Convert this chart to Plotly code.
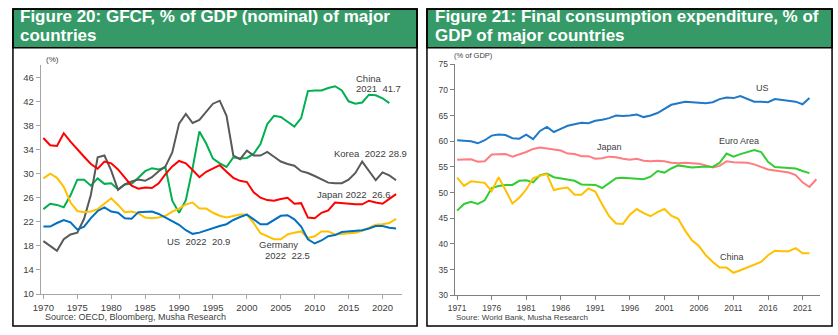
import plotly.graph_objects as go

# ---------------- Data: Figure 20 (GFCF, % of GDP) ----------------
years_gfcf = list(range(1970, 2023))
years_china_gfcf = list(range(1970, 2022))

us_gfcf = [21.2, 21.2, 21.8, 22.3, 21.9, 20.7, 21.2, 22.6, 23.8, 24.4,
           23.7, 23.5, 22.6, 22.5, 23.6, 23.7, 23.7, 23.3, 22.7, 22.2,
           21.5, 20.6, 20.0, 20.2, 20.6, 20.9, 21.3, 21.6, 22.3, 22.8,
           23.2, 22.4, 21.6, 21.6, 22.3, 23.0, 23.1, 22.4, 21.2, 19.1,
           18.4, 18.9, 19.6, 19.8, 20.3, 20.4, 20.4, 20.6, 20.9, 21.3,
           21.3, 21.0, 20.9]
japan_gfcf = [35.9, 34.7, 34.6, 36.7, 35.3, 34.0, 32.8, 31.6, 30.8, 32.0,
              31.7, 30.7, 29.4, 28.0, 27.5, 27.7, 27.6, 28.4, 29.9, 31.2,
              32.1, 31.7, 30.6, 29.4, 30.3, 30.9, 31.4, 30.3, 29.3, 28.8,
              28.6, 26.9, 26.0, 25.6, 25.5, 25.8, 26.0, 25.0, 25.1, 22.7,
              22.6, 23.5, 23.9, 25.2, 25.1, 24.9, 24.9, 24.9, 25.5, 25.2,
              25.0, 25.8, 26.6]
germany_gfcf = [29.2, 30.0, 29.3, 27.8, 25.2, 23.8, 23.6, 23.7, 24.1, 25.0,
                25.9, 24.8, 23.6, 23.7, 23.4, 22.7, 22.6, 22.7, 23.0, 23.7,
                24.2, 24.9, 25.2, 24.2, 24.2, 23.5, 23.0, 22.7, 23.0, 23.2,
                23.2, 21.8, 20.1, 19.6, 19.1, 19.1, 19.9, 20.2, 20.4, 19.3,
                19.6, 20.4, 20.4, 19.9, 20.0, 20.0, 20.2, 20.5, 21.0, 21.5,
                21.6, 21.8, 22.5]
korea_gfcf = [18.8, 18.0, 17.2, 19.1, 19.9, 20.2, 22.5, 26.5, 32.7, 33.0,
              30.5, 27.3, 28.2, 28.7, 29.0, 28.8, 29.4, 30.4, 31.2, 33.5,
              38.3, 39.9, 38.4, 38.9, 40.3, 41.6, 42.1, 39.6, 33.0, 32.4,
              33.8, 33.0, 33.0, 33.6, 32.8, 32.0, 31.6, 31.3, 30.4, 30.1,
              29.6, 29.0, 28.5, 28.4, 28.4, 29.0, 30.1, 32.0, 30.4, 28.9,
              30.2, 29.7, 28.9]
china_gfcf = [24.1, 25.0, 24.8, 24.4, 26.4, 29.0, 29.0, 28.0, 29.2, 28.3,
              28.4, 27.4, 28.2, 28.3, 29.3, 30.4, 30.9, 30.7, 31.0, 25.5,
              23.5, 25.6, 30.9, 37.0, 35.0, 32.5, 31.7, 31.1, 32.7, 32.5,
              32.6, 33.3, 34.9, 38.2, 39.6, 39.4, 38.6, 37.8, 39.2, 43.7,
              43.8, 43.8, 44.2, 44.5, 43.8, 42.0, 41.6, 41.8, 43.1, 43.0,
              42.5, 41.7]

# ---------------- Data: Figure 21 (Final consumption, % of GDP) ----------------
years_cons = list(range(1971, 2023))
years_japan_cons = list(range(1971, 2024))

us_cons = [60.2, 60.1, 60.0, 59.6, 60.2, 61.1, 61.3, 61.2, 60.6, 60.5,
           61.3, 60.4, 62.0, 62.8, 61.8, 62.4, 63.0, 63.3, 63.6, 63.5,
           64.0, 64.2, 64.5, 65.0, 64.9, 65.0, 65.2, 64.7, 65.0, 65.5,
           66.3, 67.1, 67.4, 67.7, 67.6, 67.5, 67.4, 67.6, 68.2, 68.5,
           68.4, 68.8, 68.2, 67.7, 67.7, 67.6, 68.2, 68.0, 67.9, 67.7,
           67.2, 68.4]
japan_cons = [56.4, 56.5, 56.5, 56.0, 56.1, 57.4, 57.5, 57.5, 57.0, 57.4,
              57.9, 58.5, 58.8, 58.6, 58.4, 58.2, 57.6, 57.5, 57.1, 57.1,
              56.6, 56.7, 57.0, 56.9, 56.6, 56.4, 56.6, 56.2, 56.1, 56.2,
              56.1, 55.8, 55.7, 55.8, 55.7, 55.6, 55.3, 54.9, 55.2, 56.1,
              55.9, 55.9, 55.8, 55.5, 55.0, 54.5, 54.3, 54.1, 53.9, 53.4,
              52.0, 51.1, 52.6]
euro_cons = [46.5, 47.8, 48.2, 47.8, 48.5, 50.9, 51.3, 51.5, 51.5, 52.3,
             52.4, 52.0, 53.4, 53.7, 53.0, 52.8, 52.5, 52.3, 51.6, 51.6,
             51.5, 50.9, 51.8, 52.8, 52.9, 52.8, 52.7, 52.6, 53.1, 54.2,
             53.9, 54.7, 55.3, 55.1, 54.9, 55.0, 55.1, 55.0, 55.8, 57.6,
             57.0, 57.5, 57.9, 58.3, 57.9, 56.0, 55.0, 54.9, 54.9, 54.7,
             54.2, 53.8]
china_cons = [52.9, 51.3, 52.2, 52.0, 51.9, 50.3, 53.0, 50.5, 47.9, 49.0,
              50.6, 52.8, 53.3, 53.6, 50.5, 50.8, 51.0, 49.6, 49.6, 50.8,
              50.2, 47.7, 45.4, 44.0, 43.9, 45.7, 46.8, 46.0, 45.4, 46.2,
              46.8, 45.5, 44.9, 42.6, 40.7, 39.6, 37.8, 36.5, 35.4, 35.4,
              34.4, 34.9, 35.4, 35.9, 36.5, 37.8, 38.7, 38.6, 38.6, 39.2,
              38.2, 38.2]

left_ticks_x = list(range(1970, 2021, 5))
left_ticks_y = list(range(10, 47, 4))
right_ticks_x = list(range(1971, 2022, 5))
right_ticks_y = list(range(30, 76, 5))

# ---------------- Layout helpers ----------------
W, H = 838, 335
FONT = "Liberation Sans, Arial, sans-serif"


def fx(x):
    return x / W


def fy(y):
    return 1 - y / H


fig = go.Figure()

left_series = [
    (years_china_gfcf, china_gfcf, "#00B050", "China"),
    (years_gfcf, korea_gfcf, "#595959", "Korea"),
    (years_gfcf, japan_gfcf, "#FF0000", "Japan"),
    (years_gfcf, germany_gfcf, "#FFC000", "Germany"),
    (years_gfcf, us_gfcf, "#0070C0", "US"),
]
for xs, ys, col, name in left_series:
    fig.add_trace(go.Scatter(x=xs, y=ys, mode="lines", name=name,
                             line=dict(color=col, width=2),
                             xaxis="x", yaxis="y", showlegend=False))

right_series = [
    (years_cons, us_cons, "#1F78C8", "US"),
    (years_japan_cons, japan_cons, "#FF7C80", "Japan"),
    (years_cons, euro_cons, "#33CC33", "Euro Area"),
    (years_cons, china_cons, "#FFC000", "China"),
]
for xs, ys, col, name in right_series:
    fig.add_trace(go.Scatter(x=xs, y=ys, mode="lines", name=name,
                             line=dict(color=col, width=2),
                             xaxis="x2", yaxis="y2", showlegend=False))

axis_common = dict(showgrid=False, zeroline=False, showline=True, ticks="outside",
                   ticklen=4, fixedrange=True)

fig.update_layout(
    width=W, height=H, autosize=False,
    margin=dict(l=0, r=0, t=0, b=0),
    paper_bgcolor="white", plot_bgcolor="rgba(0,0,0,0)",
    font=dict(family=FONT, color="#404040"),
    xaxis=dict(domain=[fx(33), fx(398)], anchor="y", range=[1969.6, 2022.9],
               tickvals=left_ticks_x, linecolor="#A6A6A6", tickcolor="#A6A6A6",
               tickfont=dict(size=9.5, color="#404040"), **axis_common),
    yaxis=dict(domain=[fy(298), fy(62)], anchor="x", range=[10, 48],
               tickvals=left_ticks_y, linecolor="#A6A6A6", tickcolor="#A6A6A6",
               tickfont=dict(size=9.5, color="#404040"), **axis_common),
    xaxis2=dict(domain=[fx(451), fx(820)], anchor="y2", range=[1970.65, 2023.55],
                tickvals=right_ticks_x, linecolor="#808080", tickcolor="#808080",
                tickfont=dict(size=8.5, color="#404040"), **axis_common),
    yaxis2=dict(domain=[fy(299.3), fy(61)], anchor="x2", range=[30, 75],
                tickvals=right_ticks_y, linecolor="#808080", tickcolor="#808080",
                tickfont=dict(size=8.5, color="#404040"), **axis_common),
)

GREEN = "#359A67"
shapes = [
    dict(type="rect", xref="paper", yref="paper", x0=fx(5), x1=fx(413), y0=fy(331), y1=fy(4),
         line=dict(color="black", width=1.5), fillcolor="rgba(0,0,0,0)", layer="above"),
    dict(type="rect", xref="paper", yref="paper", x0=fx(5), x1=fx(413), y0=fy(44), y1=fy(4),
         line=dict(color="black", width=1.5), fillcolor=GREEN, layer="below"),
    dict(type="rect", xref="paper", yref="paper", x0=fx(423), x1=fx(832), y0=fy(331), y1=fy(4),
         line=dict(color="black", width=1.5), fillcolor="rgba(0,0,0,0)", layer="above"),
    dict(type="rect", xref="paper", yref="paper", x0=fx(423), x1=fx(832), y0=fy(44), y1=fy(4),
         line=dict(color="black", width=1.5), fillcolor=GREEN, layer="below"),
]
fig.update_layout(shapes=shapes)


def ann(text, x, y, size=10, xanchor="left", yanchor="middle", color="#404040", bold=False):
    return dict(text=text, x=fx(x), y=fy(y), xref="paper", yref="paper",
                xanchor=xanchor, yanchor=yanchor, showarrow=False,
                font=dict(family=FONT, size=size, color=color,
                          weight="bold" if bold else "normal"))


TS = 17
annotations = [
    ann("Figure 20: GFCF, % of GDP (nominal) of major", 10, 24, TS, yanchor="bottom", color="white", bold=True),
    ann("countries", 10, 20, TS, yanchor="top", color="white", bold=True),
    ann("Figure 21: Final consumption expenditure, % of", 429, 24, TS, yanchor="bottom", color="white", bold=True),
    ann("GDP of major countries", 429, 20, TS, yanchor="top", color="white", bold=True),
    ann("(%)", 36, 56, 8),
    ann("China", 349, 76, 9.5),
    ann("2021  41.7", 349, 86, 9.5),
    ann("Korea  2022 28.9", 327, 153, 9.5),
    ann("Japan 2022  26.6", 310, 195, 9.5),
    ann("US  2022  20.9", 159, 244, 9.5),
    ann("Germany", 251, 247, 9.5),
    ann("2022  22.5", 257, 258, 9.5),
    ann("Source: OECD, Bloomberg, Musha Research", 35, 322, 9),
    ann("(% of GDP)", 448, 52, 7.5),
    ann("US", 762, 86, 9, xanchor="center"),
    ann("Euro Area", 738, 140, 9, xanchor="center"),
    ann("Japan", 607, 146, 9, xanchor="center"),
    ann("China", 731, 260, 9, xanchor="center"),
    ann("Soure: World Bank, Musha Research", 450, 322, 8),
]
fig.update_layout(annotations=annotations)

fig.write_html("out.html")
